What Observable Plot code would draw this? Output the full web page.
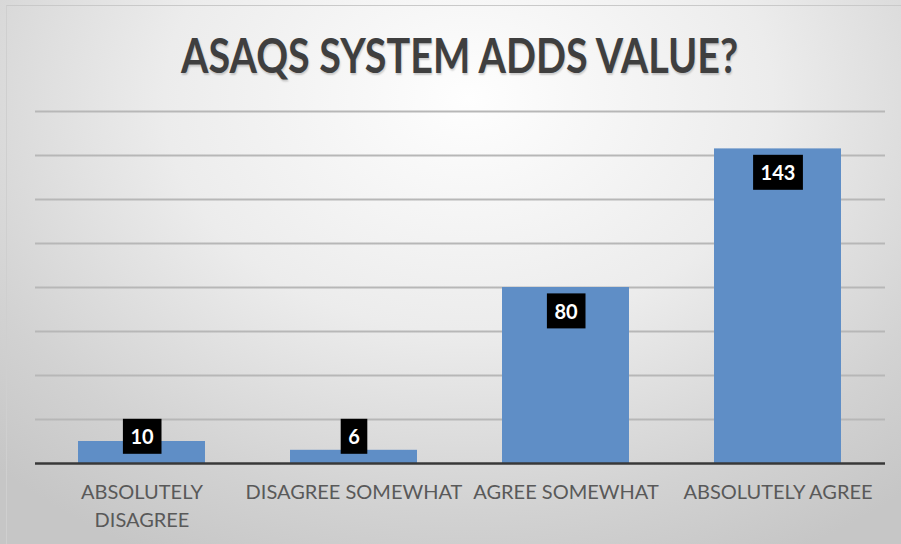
<!DOCTYPE html>
<html>
<head>
<meta charset="utf-8">
<script src="https://cdn.jsdelivr.net/npm/d3@7"></script>
<script src="https://cdn.jsdelivr.net/npm/@observablehq/plot@0.6"></script>
<style>
  body { margin: 0; background: #e4e4e4; }
  #chart {
    position: relative;
    width: 901px;
    height: 544px;
    overflow: hidden;
    background: radial-gradient(ellipse 75% 95% at 52% 18%, #fefefe 0%, #ececec 45%, #d2d2d2 80%, #c6c6c6 100%);
    font-family: Lato, sans-serif;
  }
  #frame {
    position: absolute;
    top: 5px; left: 6px; right: 0; bottom: 0;
    border-top: 1px solid #c9c9c9;
    border-left: 1px solid #cfcfcf;
    pointer-events: none;
  }
  #title {
    position: absolute;
    top: 32px; left: 35px; width: 850px;
    text-align: center;
    font-size: 47px;
    line-height: 47px;
    font-weight: bold;
    color: #3f3f3f;
    text-shadow: 1px 2px 2px rgba(0, 0, 0, 0.18);
  }
  #title-text {
    display: inline-block;
    transform: scaleX(0.84);
    transform-origin: 50% 50%;
    white-space: nowrap;
  }
  #plot { position: absolute; top: 100px; left: 0; }
</style>
</head>
<body>
<div id="chart">
  <div id="frame"></div>
  <div id="title"><span id="title-text">ASAQS SYSTEM ADDS VALUE?</span></div>
  <div id="plot"></div>
</div>
<script>
// Survey responses
const categories = ["ABSOLUTELY DISAGREE", "DISAGREE SOMEWHAT", "AGREE SOMEWHAT", "ABSOLUTELY AGREE"];
const tickLabels = ["ABSOLUTELY\nDISAGREE", "DISAGREE SOMEWHAT", "AGREE SOMEWHAT", "ABSOLUTELY AGREE"];
const counts = [10, 6, 80, 143];
const gridTicks = [20, 40, 60, 80, 100, 120, 140, 160];

const data = categories.map((category, i) => ({category, count: counts[i]}));

const chart = Plot.plot({
  width: 901,
  height: 444,
  marginTop: 11,
  marginBottom: 81,
  marginLeft: 35,
  marginRight: 16,
  style: {
    background: "transparent",
    fontFamily: "Lato, sans-serif",
    fontSize: "20px",
    color: "#595959"
  },
  x: {domain: categories, paddingInner: 0.4, paddingOuter: 0.2, label: null},
  y: {domain: [0, 160], axis: null},
  marks: [
    Plot.ruleY(gridTicks, {stroke: "#b7b7b7", strokeWidth: 2}),
    Plot.barY(data, {x: "category", y: "count", fill: "#5f8ec6"}),
    Plot.ruleY([0], {stroke: "#383838", strokeWidth: 2.5}),
    Plot.axisX({
      tickSize: 0,
      tickPadding: 16,
      lineHeight: 1.4,
      tickFormat: (d) => tickLabels[categories.indexOf(d)]
    }),
    // value labels sit just inside the bar end, clamped above the baseline for short bars
    Plot.text(data, {
      x: "category",
      y: (d) => Math.max(d.count, 23),
      dy: 25,
      text: (d) => String(d.count),
      fill: "white",
      fontWeight: "bold",
      fontSize: 20,
      fontFamily: "Lato, sans-serif",
      className: "value-labels"
    })
  ]
});

document.getElementById("plot").appendChild(chart);

// black boxes behind the value labels
d3.select(chart).selectAll(".value-labels text").each(function () {
  const b = this.getBBox();
  const w = b.width + 15, h = 35;
  const r = document.createElementNS("http://www.w3.org/2000/svg", "rect");
  r.setAttribute("x", b.x + b.width / 2 - w / 2);
  r.setAttribute("y", b.y + b.height / 2 - h / 2);
  r.setAttribute("width", w);
  r.setAttribute("height", h);
  r.setAttribute("fill", "#000");
  const t = this.getAttribute("transform");
  if (t) r.setAttribute("transform", t);
  this.parentNode.insertBefore(r, this);
});
</script>
</body>
</html>
